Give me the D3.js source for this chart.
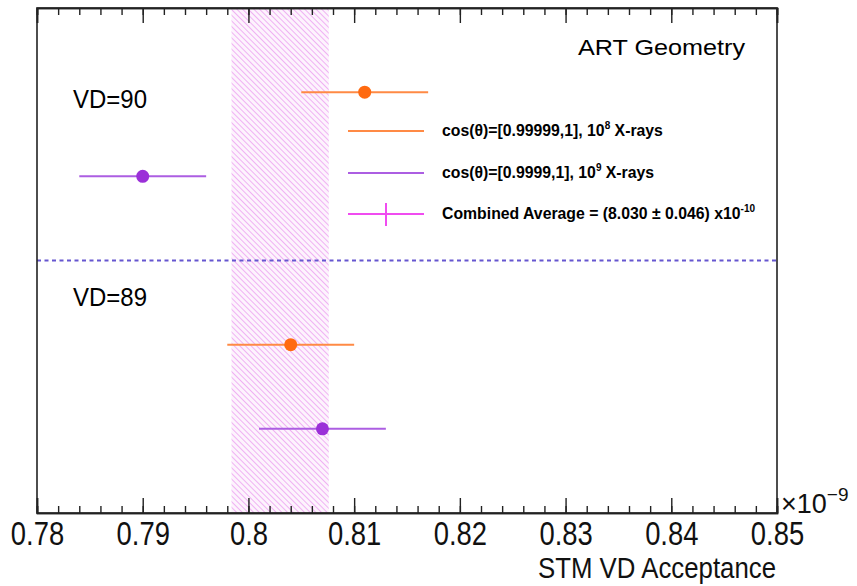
<!DOCTYPE html>
<html>
<head>
<meta charset="utf-8">
<script src="https://cdn.jsdelivr.net/npm/d3@7"></script>
<style>
  body { margin: 0; background: #fff; }
  text { font-family: "Liberation Sans", Arial, Helvetica, sans-serif; }
</style>
</head>
<body>
<div id="chart"></div>
<script>
// data (x axis in units of 1e-9)
var groupLabels = ["VD=90", "VD=89"];
var seriesNames = ["cos(\u03b8)=[0.99999,1], 10", "cos(\u03b8)=[0.9999,1], 10"];
var seriesSup = ["8", "9"];
var seriesColors = ["#ff6a10", "#9b30d8"];
var lineColors = ["#ff8a45", "#ac5ee2"];
// value and error per group for each series
var orangeVals = [0.811, 0.804];
var orangeErrs = [0.006, 0.006];
var purpleVals = [0.790, 0.807];
var purpleErrs = [0.006, 0.006];
var rowPos = [[5, 2], [4, 1]];   // y slot of each point (series x group)
var dividerPos = 3;
var combinedVal = 0.8030;
var combinedErr = 0.0046;
var xTicks = [0.78, 0.79, 0.80, 0.81, 0.82, 0.83, 0.84, 0.85];
var xTickLabels = ["0.78", "0.79", "0.8", "0.81", "0.82", "0.83", "0.84", "0.85"];

var svgWidth = 857, svgHeight = 586;
var margin = {top: 8, right: 80, bottom: 73, left: 37};
var width = svgWidth - margin.left - margin.right;
var height = svgHeight - margin.top - margin.bottom;

var svg = d3.select("#chart").append("svg")
  .attr("width", svgWidth)
  .attr("height", svgHeight);

var defs = svg.append("defs");
var pat = defs.append("pattern")
  .attr("id", "hatch")
  .attr("patternUnits", "userSpaceOnUse")
  .attr("width", 4).attr("height", 4)
  .attr("patternTransform", "rotate(-45)");
pat.append("rect").attr("width", 4).attr("height", 4).attr("fill", "#fdf3fd");
pat.append("line")
  .attr("x1", 0).attr("y1", 0).attr("x2", 0).attr("y2", 4)
  .attr("stroke", "#eb9cf0").attr("stroke-width", 1.5);

var g = svg.append("g").attr("transform", `translate(${margin.left}, ${margin.top})`);

var xScale = d3.scaleLinear().domain([0.78, 0.85]).range([0, width]);
var yScale = d3.scaleLinear().domain([0, 6]).range([height, 0]);

// combined average band
g.append("rect")
  .attr("x", xScale(combinedVal - combinedErr))
  .attr("y", 0)
  .attr("width", xScale(combinedVal + combinedErr) - xScale(combinedVal - combinedErr))
  .attr("height", height)
  .attr("fill", "url(#hatch)");

// divider between VD groups
g.append("line")
  .attr("x1", 0).attr("x2", width)
  .attr("y1", yScale(dividerPos)).attr("y2", yScale(dividerPos))
  .attr("stroke", "#6656d0").attr("stroke-width", 1.8)
  .attr("stroke-dasharray", "4,3.5");

// points with error bars
var points = [];
[[orangeVals, orangeErrs], [purpleVals, purpleErrs]].forEach(function(s, si) {
  s[0].forEach(function(v, gi) {
    points.push({v: v, e: s[1][gi], y: rowPos[si][gi], s: si});
  });
});

g.selectAll(".err").data(points).enter().append("line")
  .attr("class", "err")
  .attr("x1", d => xScale(d.v - d.e))
  .attr("x2", d => xScale(d.v + d.e))
  .attr("y1", d => yScale(d.y))
  .attr("y2", d => yScale(d.y))
  .attr("stroke", d => lineColors[d.s])
  .attr("stroke-width", 2);

g.selectAll(".pt").data(points).enter().append("circle")
  .attr("class", "pt")
  .attr("cx", d => xScale(d.v))
  .attr("cy", d => yScale(d.y))
  .attr("r", 6.5)
  .attr("fill", d => seriesColors[d.s]);

// frame
g.append("rect")
  .attr("width", width).attr("height", height)
  .attr("fill", "none").attr("stroke", "#222").attr("stroke-width", 1.6);

// x axes (major + minor ticks, bottom and top)
var minor = d3.range(0.78, 0.8501, 0.002);
var xAxisB = d3.axisBottom(xScale).tickValues(xTicks).tickSize(-15).tickPadding(9)
  .tickFormat((d, i) => xTickLabels[i]);
var xAxisBm = d3.axisBottom(xScale).tickValues(minor).tickSize(-7).tickFormat("");
var xAxisT = d3.axisTop(xScale).tickValues(xTicks).tickSize(-15).tickFormat("");
var xAxisTm = d3.axisTop(xScale).tickValues(minor).tickSize(-7).tickFormat("");

[xAxisBm, xAxisB].forEach(function(ax) {
  g.append("g").attr("class", "x-axis")
    .attr("transform", `translate(0, ${height})`).call(ax);
});
[xAxisTm, xAxisT].forEach(function(ax) {
  g.append("g").attr("class", "x-axis").call(ax);
});
g.selectAll(".x-axis .domain").attr("stroke", "#222").attr("stroke-width", 1.6);
g.selectAll(".x-axis .tick line").attr("stroke", "#222").attr("stroke-width", 1.4);
g.selectAll(".x-axis .tick text")
  .attr("font-size", 33)
  .attr("fill", "#111")
  .each(function() {
    var t = d3.select(this);
    t.attr("textLength", this.getComputedTextLength() * 0.83)
     .attr("lengthAdjust", "spacingAndGlyphs");
  });

// axis title and exponent
svg.append("text")
  .attr("x", 776).attr("y", 578)
  .attr("text-anchor", "end")
  .attr("font-size", 30)
  .attr("textLength", 238).attr("lengthAdjust", "spacingAndGlyphs")
  .attr("fill", "#111")
  .text("STM VD Acceptance");

var expo = svg.append("text").attr("x", 781).attr("y", 513).attr("fill", "#111");
expo.append("tspan").attr("font-size", 27).text("\u00d710");
expo.append("tspan").attr("font-size", 19).attr("dy", -12).text("\u22129");

// labels
svg.append("text")
  .attr("x", 578).attr("y", 55)
  .attr("font-size", 22)
  .attr("textLength", 167).attr("lengthAdjust", "spacingAndGlyphs")
  .text("ART Geometry");

groupLabels.forEach(function(lab, i) {
  svg.append("text")
    .attr("x", 73).attr("y", i === 0 ? 108 : 306)
    .attr("font-size", 25)
    .attr("textLength", 74).attr("lengthAdjust", "spacingAndGlyphs")
    .text(lab);
});

// legend
var legY = [131, 173, 214];
var leg = svg.append("g").attr("font-weight", "bold").attr("font-size", 15.8);
seriesNames.forEach(function(name, i) {
  leg.append("line")
    .attr("x1", 348).attr("x2", 424)
    .attr("y1", legY[i]).attr("y2", legY[i])
    .attr("stroke", lineColors[i]).attr("stroke-width", 2);
  var t = leg.append("text").attr("x", 442).attr("y", legY[i] + 5);
  t.append("tspan").text(name);
  t.append("tspan").attr("font-size", 10).attr("dy", -7).text(seriesSup[i]);
  t.append("tspan").attr("dy", 7).text(" X-rays");
});
leg.append("line")
  .attr("x1", 348).attr("x2", 424)
  .attr("y1", legY[2]).attr("y2", legY[2])
  .attr("stroke", "#f04cf0").attr("stroke-width", 2);
leg.append("line")
  .attr("x1", 386).attr("x2", 386)
  .attr("y1", legY[2] - 11).attr("y2", legY[2] + 12)
  .attr("stroke", "#f04cf0").attr("stroke-width", 2);
var ct = leg.append("text").attr("x", 442).attr("y", legY[2] + 5);
ct.append("tspan").text("Combined Average = (8.030 \u00b1 0.046) x10");
ct.append("tspan").attr("font-size", 10).attr("dy", -7).text("-10");
</script>
</body>
</html>
